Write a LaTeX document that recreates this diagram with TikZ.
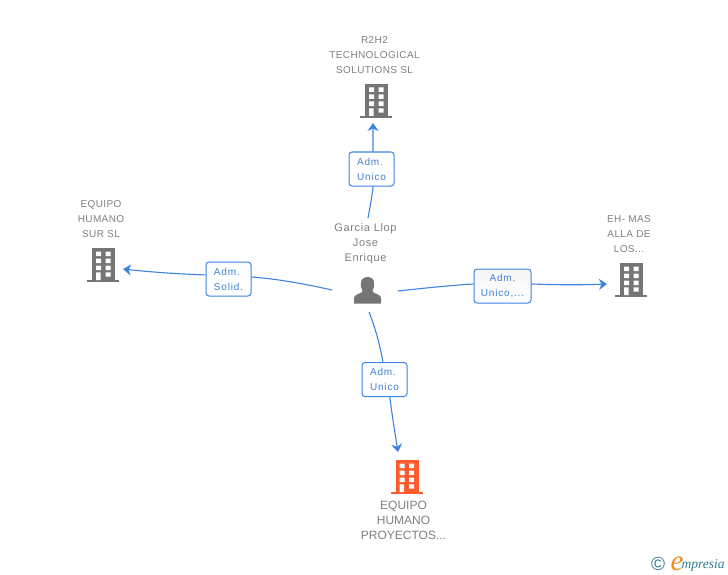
\documentclass[tikz,border=0pt]{standalone}
\usepackage{fontspec}
\setmainfont{Liberation Sans}
\newfontfamily\serifit{Liberation Serif}
\usetikzlibrary{arrows.meta}
\definecolor{lnblue}{HTML}{3D84E0}
\definecolor{txtblue}{HTML}{3F7FD6}
\definecolor{txtgray}{HTML}{808080}
\definecolor{iconGray}{HTML}{757575}
\definecolor{iconOrange}{HTML}{FF5A2B}
\definecolor{teal1}{HTML}{2E7A94}
\definecolor{orange1}{HTML}{F28C1E}
\tikzset{
  conn/.style={draw=lnblue,line width=1.1pt},
  connarrow/.style={conn,-{Stealth[length=8pt,width=11pt,inset=2.5pt]}},
  rolebox/.style={draw=lnblue,line width=1pt,rounded corners=3pt,top color=#1,bottom color=white,
     minimum height=34pt,inner sep=0pt,text=txtblue,
     font=\fontsize{10pt}{15pt}\selectfont\addfontfeature{LetterSpace=8}},
  rolebox/.default=white,
  lbl/.style={text=txtgray,align=center,inner sep=0pt,
     font=\fontsize{10pt}{15pt}\selectfont\addfontfeature{LetterSpace=4}},
  lblbig/.style={text=txtgray,align=center,inner sep=0pt,
     font=\fontsize{11pt}{15pt}\selectfont\addfontfeature{LetterSpace=6}},
  lblorg/.style={text=txtgray,align=center,inner sep=0pt,
     font=\fontsize{12pt}{15pt}\selectfont},
  holder/.style={inner sep=0pt,minimum width=32pt,minimum height=34pt}
}
% building icon: #1 node name, #2 left x of base, #3 top y, #4 colour
\newcommand{\bldg}[4]{%
  \node[holder] (#1) at (#2+16,#3+17) {};
  \begin{scope}[shift={(#2,#3)}]
    \fill[#4] (5,0) rectangle (28,32);
    \fill[#4] (0,32) rectangle (32,34);
    \fill[white] (9,3.5) rectangle (14,8) (18.7,3.5) rectangle (23.5,8)
      (9,10.5) rectangle (14,15) (18.7,10.5) rectangle (23.5,15)
      (9,17.5) rectangle (14,22) (18.7,17.5) rectangle (23.5,22)
      (9,24.3) rectangle (13.5,32) (18.7,24.3) rectangle (23.5,28.7);
  \end{scope}}
\begin{document}
\begin{tikzpicture}[x=1pt,y=-1pt]
\useasboundingbox (0,0) rectangle (728,575);
\fill[white] (0,0) rectangle (728,575);

% labels
\node[lbl] (tTop) at (374.5,55.5) {R2H2\\TECHNOLOGICAL\\SOLUTIONS SL};
\node[lbl] (tLeft) at (101,219.5) {EQUIPO\\HUMANO\\SUR SL};
\node[lbl] (tRight) at (629,234.5) {EH- MAS\\ALLA DE\\LOS...};
\node[lblbig] (tCenter) at (365.5,243.5) {Garcia Llop\\Jose\\Enrique};
\node[lblorg] (tBottom) at (403.5,520.5) {EQUIPO\\HUMANO\\PROYECTOS...};

% buildings
\bldg{bTop}{360}{84}{iconGray}
\bldg{bLeft}{87}{248}{iconGray}
\bldg{bRight}{615}{263}{iconGray}
\bldg{bBottom}{390.5}{460}{iconOrange}

% person
\node[inner sep=0pt,minimum width=27pt,minimum height=26pt] (person) at (367.5,290) {};
\fill[iconGray] (354,303.5) -- (354,298.5) .. controls (354,295.5) and (357,294.5) .. (361.5,292.5)
  -- (362.5,290.5) .. controls (360.5,288) and (360.5,285) .. (361,283)
  .. controls (361,279) and (364,277) .. (367.5,277)
  .. controls (371,277) and (374,279) .. (374,283)
  .. controls (374.5,285) and (374.5,288) .. (372.5,290.5)
  -- (373.5,292.5) .. controls (378,294.5) and (381,295.5) .. (381,298.5) -- (381,303.5) -- cycle;

% role boxes
\node[rolebox,minimum width=45pt,align=left] (boxT) at (371.5,169) {Adm.\\Unico};
\node[rolebox,minimum width=45pt,align=left] (boxL) at (228.5,279) {Adm.\\Solid.};
\node[rolebox=black!4,minimum width=57pt,align=center] (boxR) at (502.5,286) {Adm.\\Unico,...};
\node[rolebox,minimum width=45pt,align=left] (boxB) at (384.5,379.5) {Adm.\\Unico};

% connector free ends
\coordinate (pT) at (368,218);
\coordinate (pL) at (332,290);
\coordinate (pR) at (398,291);
\coordinate (pB) at (369,312);
\coordinate (eT) at (373,123);
\coordinate (eL) at (123,269);
\coordinate (eR) at (607,284);
\coordinate (eB) at (398,452);

% connectors
\draw[conn] (pT) .. controls (370,207) and (372,197) .. (boxT.-85);
\draw[connarrow] (boxT.85) .. controls (373,143) and (373,133) .. (eT);
\draw[conn] (pL) .. controls (305,284) and (278,279) .. (boxL.5);
\draw[connarrow] (boxL.170) .. controls (178,274) and (150,272) .. (eL);
\draw[conn] (pR) .. controls (425,288) and (450,285.5) .. (boxR.176);
\draw[connarrow] (boxR.4) .. controls (558,285) and (582,285) .. (eR);
\draw[conn] (pB) .. controls (375,327) and (380,345) .. (boxB.95);
\draw[connarrow] (boxB.-73) .. controls (392,415) and (395,433) .. (eB);

% logo
\node[inner sep=0pt,text=teal1,font=\fontsize{19pt}{19pt}\selectfont] (logoC) at (658,564) {©};
\node[inner sep=0pt,anchor=base west,text=orange1,font=\fontsize{29pt}{29pt}\serifit\itshape] (logoE) at (670.5,570) {e};
\node[inner sep=0pt,anchor=base west,text=teal1,font=\fontsize{13.5pt}{13.5pt}\serifit\itshape] (logoT) at (681.5,568) {mpresia};
\end{tikzpicture}
\end{document}
